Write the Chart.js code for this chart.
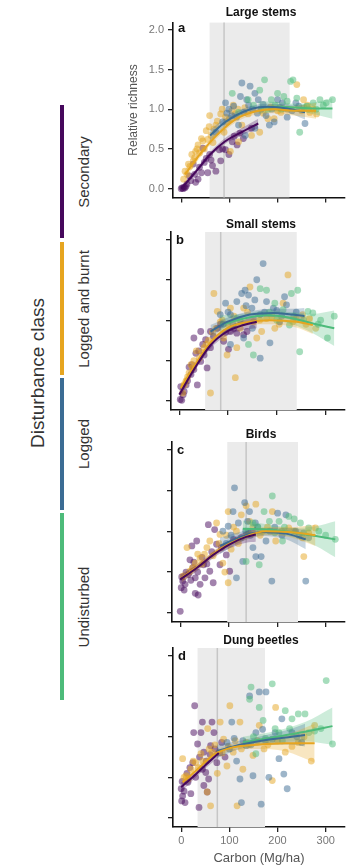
<!DOCTYPE html>
<html>
<head>
<meta charset="utf-8">
<script src="https://cdn.jsdelivr.net/npm/chart.js@4.4.1/dist/chart.umd.min.js"></script>
<style>
  body { margin: 0; width: 349px; height: 866px; background: #fff; position: relative; overflow: hidden;
         font-family: "Liberation Sans", Arial, sans-serif; }
  canvas { position: absolute; }
  .ptitle { position: absolute; font-weight: bold; font-size: 12px; color: #111; white-space: nowrap;
            transform: translate(-50%, -50%); }
  .letter { position: absolute; font-weight: bold; font-size: 13px; color: #111; transform: translateY(-50%); }
  .seg { position: absolute; left: 60px; width: 4px; }
  .lab { position: absolute; white-space: nowrap; color: #333; font-size: 15px;
         transform: translate(-50%, -50%) rotate(-90deg); }
  .legtitle { font-size: 19px; }
</style>
</head>
<body>
<script>
const classes = ['Secondary', 'Logged and burnt', 'Logged', 'Undisturbed'];
const panelTitles = ['Large stems', 'Small stems', 'Birds', 'Dung beetles'];
const panelLetters = ['a', 'b', 'c', 'd'];
const yTicks = [0, 0.5, 1, 1.5, 2];
const xTicks = [0, 100, 200, 300];
const bandFrom = [59, 53, 97, 34];
const bandTo = [225, 241, 243, 174];
const thresholdLine = [89, 85, 136, 75];

// points [carbon, relative richness]
const aSecondary = [[0,0],[2,0.01],[4,0],[6,0.02],[8,0.01],[10,0.03],[12,0.06],[17,0.16],[20,0.1],[25,0.31],[28,0.18],[30,0.08],[35,0.12],[38,0.27],[42,0.2],[45,0.51],[48,0.33],[52,0.38],[55,0.2],[59,0.43],[62,0.36],[65,0.29],[72,0.22],[79,0.49],[82,0.35],[86,0.5],[92,0.49],[99,0.43],[106,0.59],[110,0.66],[116,0.55],[122,0.7],[129,0.63],[146,0.76]];
const aBurnt = [[5,0.12],[8,0.22],[12,0.18],[15,0.31],[18,0.28],[22,0.43],[25,0.35],[28,0.39],[30,0.47],[33,0.5],[35,0.55],[38,0.45],[42,0.63],[45,0.6],[48,0.5],[52,0.73],[55,0.62],[58,0.78],[59,0.92],[62,0.67],[66,0.58],[68,0.75],[72,0.8],[75,0.85],[82,0.94],[85,1.0],[89,0.71],[92,0.9],[96,0.84],[100,0.88],[102,0.47],[105,0.98],[108,1.05],[112,0.94],[118,1.0],[119,0.59],[126,0.8],[132,1.02],[139,0.94],[146,0.67],[163,0.71],[170,0.95],[180,0.88],[186,1.03],[193,0.88],[200,0.98],[207,0.96],[220,1.0],[240,1.31],[250,0.98],[254,1.12],[262,1.05],[267,0.96],[274,1.0],[281,0.94]];
const aLogged = [[72,0.71],[86,0.84],[92,1.08],[95,0.95],[99,1.0],[105,0.92],[109,1.04],[115,0.9],[119,0.8],[123,1.16],[126,1.33],[130,0.96],[133,0.67],[136,1.12],[140,1.05],[143,1.29],[148,1.0],[153,1.2],[153,0.76],[158,0.95],[160,1.12],[166,1.0],[170,1.06],[176,0.92],[183,0.8],[188,1.0],[193,0.84],[200,1.12],[205,1.02],[210,1.08],[220,0.9],[230,0.98],[238,1.08],[244,1.04],[257,0.82]];
const aUndisturbed = [[106,1.2],[119,0.96],[139,1.12],[150,1.05],[163,1.24],[173,1.37],[180,1.0],[187,1.12],[195,1.05],[200,1.2],[208,1.0],[213,1.16],[220,1.1],[227,1.35],[232,1.37],[240,1.14],[246,0.71],[255,1.02],[261,1.04],[264,1.0],[274,1.08],[280,1.0],[288,1.12],[295,1.05],[301,1.08],[314,1.12]];

const bSecondary = [[2,0.02],[5,0.01],[3,0.18],[8,0.08],[10,0.12],[14,0.2],[17,0.25],[20,0.42],[24,0.33],[26,0.45],[30,0.39],[30,0.78],[34,0.59],[37,0.2],[40,0.62],[44,0.49],[44,0.86],[48,0.7],[51,0.57],[54,0.76],[57,0.41],[64,0.86],[64,0.66],[70,0.8],[78,0.9],[85,0.95],[91,0.74],[95,0.85],[101,0.64],[105,0.86],[112,0.9],[118,0.84],[132,0.82],[139,0.86]];
const bBurnt = [[7,0.1],[10,0.2],[14,0.25],[17,0.3],[20,0.35],[24,0.45],[27,0.41],[30,0.5],[35,0.62],[41,0.53],[46,0.6],[51,0.66],[55,0.7],[60,0.75],[64,0.1],[68,0.85],[71,1.33],[75,0.9],[78,1.11],[84,0.98],[88,1.0],[91,0.78],[98,0.57],[100,0.95],[105,1.15],[112,1.05],[115,0.29],[118,0.66],[125,0.9],[132,1.15],[140,1.1],[145,1.41],[152,0.98],[159,0.78],[165,1.0],[169,0.86],[179,1.02],[190,1.05],[196,0.9],[205,0.95],[213,1.21],[223,1.56],[233,0.98],[240,1.02],[253,1.07],[260,0.95],[267,1.02],[280,0.9]];
const bLogged = [[84,1.07],[90,0.95],[95,1.21],[100,1.1],[105,1.07],[105,0.7],[110,0.95],[118,1.23],[125,1.0],[128,1.33],[132,0.78],[135,1.37],[137,1.18],[142,1.31],[149,1.15],[150,0.9],[155,1.25],[159,1.5],[166,1.07],[166,0.53],[172,1.7],[175,1.1],[179,1.23],[186,0.72],[193,1.15],[200,1.12],[206,0.98],[210,1.05],[216,1.29],[220,1.19],[240,1.1]];
const bUndisturbed = [[118,1.02],[142,0.7],[152,0.57],[166,1.39],[179,1.37],[185,1.1],[196,1.21],[200,1.0],[213,1.13],[226,0.94],[230,1.33],[235,1.05],[243,1.37],[247,0.61],[255,1.0],[264,1.11],[274,1.09],[285,0.95],[290,1.0],[304,0.78],[318,1.05]];

const cSecondary = [[0,0.02],[2,0.31],[3,0.44],[5,0.39],[8,0.28],[10,0.35],[12,0.5],[17,0.47],[20,0.65],[22,0.4],[24,0.82],[26,0.55],[28,0.62],[31,0.43],[31,0.24],[34,0.88],[36,0.5],[37,0.22],[41,0.35],[45,0.68],[48,0.59],[51,0.43],[55,0.6],[58,1.08],[61,0.51],[65,0.75],[68,0.37],[71,1.02],[75,0.84],[82,0.59],[85,0.8],[95,0.71],[102,0.51],[110,0.9]];
const cBurnt = [[6,0.45],[14,0.8],[20,0.51],[25,0.55],[31,0.61],[36,0.72],[41,0.67],[45,0.6],[50,0.72],[55,0.8],[61,0.88],[68,0.7],[75,1.1],[80,0.85],[82,0.96],[88,0.61],[92,0.5],[95,0.95],[99,0.37],[99,1.24],[105,0.78],[110,1.05],[116,1.0],[120,0.85],[126,1.2],[136,1.31],[143,1.12],[150,1.05],[156,1.33],[165,0.95],[170,1.0],[180,1.05],[190,1.24],[197,0.88],[210,1.0],[224,1.04],[235,1.0],[252,0.92],[255,0.69],[265,0.98],[279,1.04]];
const cLogged = [[88,1.0],[95,0.85],[99,1.06],[105,0.95],[109,1.24],[112,1.53],[116,0.43],[120,1.1],[126,0.92],[129,0.63],[133,1.35],[135,1.0],[139,1.12],[143,1.24],[145,0.95],[150,0.8],[155,1.1],[156,0.69],[160,1.05],[167,0.69],[177,0.88],[185,1.0],[189,0.39],[195,1.05],[201,1.22],[210,0.95],[218,1.2],[238,1.0],[245,0.95],[259,0.39],[265,0.92]];
const cUndisturbed = [[136,0.63],[140,1.0],[150,1.1],[160,1.05],[163,0.59],[173,1.24],[184,1.12],[190,1.43],[195,0.98],[204,1.12],[211,0.88],[215,1.05],[224,1.18],[235,1.15],[248,1.1],[255,0.98],[265,1.04],[286,1.0],[300,0.95],[320,0.9]];

const dSecondary = [[0,0.36],[1,0.21],[2,0.45],[3,0.27],[6,0.33],[8,0.19],[12,0.55],[14,0.44],[18,0.62],[20,0.3],[24,0.68],[26,1.05],[28,1.38],[30,0.5],[34,0.91],[37,0.13],[38,0.75],[41,1.05],[44,1.18],[44,0.6],[47,0.81],[47,0.4],[51,0.56],[52,0.7],[54,0.32],[57,0.48],[60,0.78],[61,0.89],[64,1.18],[68,1.05],[70,0.85],[74,0.68],[80,0.8],[84,0.93],[91,0.75]];
const dBurnt = [[3,0.73],[6,0.5],[10,0.52],[15,0.48],[20,0.6],[25,0.7],[30,0.68],[35,0.62],[41,0.79],[45,0.7],[54,0.32],[55,1.1],[58,0.85],[61,0.15],[64,0.81],[70,0.9],[75,0.55],[81,1.18],[85,0.8],[88,0.97],[95,0.64],[98,0.88],[101,1.38],[108,0.81],[112,0.95],[116,0.15],[122,1.18],[125,0.85],[128,0.6],[135,0.93],[140,0.9],[149,0.77],[158,0.95],[162,1.14],[172,0.85],[180,0.9],[189,0.46],[196,1.36],[200,0.95],[216,0.81],[230,0.88],[243,0.93],[255,1.0],[270,0.7],[277,1.14]];
const dLogged = [[95,0.93],[100,0.85],[105,1.18],[110,0.98],[115,0.7],[122,0.48],[125,0.19],[128,0.95],[135,0.89],[142,1.5],[145,0.9],[149,0.52],[155,1.05],[162,1.55],[166,0.17],[169,1.09],[175,0.95],[176,1.55],[182,0.5],[189,0.97],[195,1.05],[203,0.73],[209,1.22],[213,0.54],[220,0.36],[230,1.05],[240,1.0],[250,0.93]];
const dUndisturbed = [[142,1.46],[145,1.61],[150,1.0],[155,0.79],[162,1.36],[170,1.2],[175,0.98],[189,1.65],[195,1.1],[203,1.05],[210,0.95],[216,1.32],[225,1.1],[230,1.22],[243,1.28],[257,1.28],[265,1.05],[277,1.07],[290,1.1],[301,1.69],[314,0.91]];

// fitted curves [carbon, fit, lower, upper]
const aSecondaryFit = [[0,0.0,-0.02,0.03],[30,0.21,0.18,0.24],[60,0.43,0.40,0.46],[90,0.59,0.56,0.63],[125,0.71,0.67,0.76],[160,0.82,0.76,0.88]];
const aBurntFit = [[8,0.18,0.12,0.24],[40,0.44,0.40,0.48],[75,0.68,0.64,0.72],[112,0.87,0.83,0.91],[153,0.97,0.93,1.01],[193,1.0,0.95,1.05],[234,0.98,0.92,1.04],[280,0.98,0.88,1.08]];
const aLoggedFit = [[60,0.67,0.6,0.74],[92,0.84,0.79,0.89],[139,0.99,0.95,1.03],[180,1.03,0.99,1.07],[220,1.01,0.96,1.06],[257,0.96,0.87,1.05]];
const aUndisturbedFit = [[160,1.02,0.94,1.1],[200,1.03,0.97,1.09],[240,1.02,0.97,1.07],[280,1.01,0.93,1.09],[314,1.01,0.88,1.14]];

const bSecondaryFit = [[0,0.08,0.02,0.14],[30,0.39,0.35,0.43],[64,0.69,0.65,0.73],[98,0.86,0.81,0.91],[132,0.94,0.88,1.0],[159,0.98,0.9,1.06]];
const bBurntFit = [[3,0.16,0.1,0.22],[37,0.49,0.45,0.53],[71,0.77,0.73,0.81],[105,0.92,0.88,0.96],[145,0.98,0.94,1.02],[186,1.0,0.95,1.05],[240,0.98,0.91,1.05],[274,0.94,0.83,1.05]];
const bLoggedFit = [[64,0.86,0.78,0.94],[98,0.98,0.93,1.03],[145,1.07,1.03,1.11],[193,1.09,1.04,1.14],[233,1.07,1.0,1.14],[257,1.05,0.95,1.15]];
const bUndisturbedFit = [[84,0.94,0.82,1.06],[132,1.02,0.96,1.08],[179,1.06,1.0,1.12],[226,1.03,0.96,1.1],[274,0.96,0.84,1.08],[318,0.9,0.68,1.12]];

const cSecondaryFit = [[0,0.41,0.35,0.47],[34,0.55,0.51,0.59],[68,0.71,0.67,0.75],[102,0.84,0.79,0.89],[136,0.93,0.86,1.0],[156,0.96,0.87,1.05]];
const cBurntFit = [[3,0.43,0.37,0.49],[41,0.59,0.55,0.63],[82,0.78,0.74,0.82],[129,0.92,0.88,0.96],[177,1.0,0.95,1.05],[224,0.99,0.93,1.05],[279,0.95,0.82,1.08]];
const cLoggedFit = [[82,0.82,0.72,0.92],[129,0.94,0.88,1.0],[170,0.99,0.94,1.04],[218,0.97,0.9,1.04],[259,0.9,0.78,1.02]];
const cUndisturbedFit = [[129,1.03,0.93,1.13],[184,1.02,0.96,1.08],[238,0.98,0.92,1.04],[280,0.94,0.82,1.06],[320,0.9,0.68,1.12]];

const dSecondaryFit = [[0,0.38,0.32,0.44],[27,0.52,0.48,0.56],[54,0.67,0.63,0.71],[78,0.8,0.74,0.86]];
const dBurntFit = [[3,0.44,0.38,0.5],[34,0.6,0.56,0.64],[68,0.78,0.74,0.82],[108,0.87,0.83,0.91],[155,0.9,0.85,0.95],[216,0.92,0.82,1.02],[277,0.92,0.68,1.16]];
const dLoggedFit = [[74,0.82,0.74,0.9],[122,0.9,0.85,0.95],[176,0.96,0.9,1.02],[230,1.0,0.9,1.1],[257,1.02,0.88,1.16]];
const dUndisturbedFit = [[128,0.93,0.86,1.0],[189,0.99,0.92,1.06],[257,1.06,0.94,1.18],[314,1.13,0.9,1.36]];

const panelPoints = [
  [aSecondary, aBurnt, aLogged, aUndisturbed],
  [bSecondary, bBurnt, bLogged, bUndisturbed],
  [cSecondary, cBurnt, cLogged, cUndisturbed],
  [dSecondary, dBurnt, dLogged, dUndisturbed]
];
const panelFits = [
  [aSecondaryFit, aBurntFit, aLoggedFit, aUndisturbedFit],
  [bSecondaryFit, bBurntFit, bLoggedFit, bUndisturbedFit],
  [cSecondaryFit, cBurntFit, cLoggedFit, cUndisturbedFit],
  [dSecondaryFit, dBurntFit, dLoggedFit, dUndisturbedFit]
];

// styling / layout
const classColors = ['#46085c', '#e6a520', '#3b6c94', '#4dbb7a'];
const boxes = [
  { axisX: 173, top: 20, bottom: 200 },
  { axisX: 171, top: 232, bottom: 410 },
  { axisX: 172, top: 442, bottom: 622 },
  { axisX: 173, top: 648, bottom: 827 }
];
const segTop = [105, 242, 378, 513];
const segBottom = [238, 375, 510, 700];

const rgba = (hex, a) => {
  const n = parseInt(hex.slice(1), 16);
  return `rgba(${n >> 16},${(n >> 8) & 255},${n & 255},${a})`;
};

const bandPlugin = {
  id: 'carbonBand',
  beforeDatasetsDraw(chart, args, opts) {
    const { ctx, chartArea, scales: { x } } = chart;
    const x0 = x.getPixelForValue(opts.from);
    const x1 = x.getPixelForValue(opts.to);
    const xl = x.getPixelForValue(opts.line);
    ctx.save();
    ctx.fillStyle = '#ebebeb';
    ctx.fillRect(x0, chartArea.top, x1 - x0, chartArea.bottom - chartArea.top);
    ctx.strokeStyle = '#c6c6c6';
    ctx.lineWidth = 1.5;
    ctx.beginPath();
    ctx.moveTo(xl, chartArea.top);
    ctx.lineTo(xl, chartArea.bottom);
    ctx.stroke();
    ctx.restore();
  }
};

// legend on the left
const legTitle = document.createElement('div');
legTitle.className = 'lab legtitle';
legTitle.style.left = '38px';
legTitle.style.top = '373px';
legTitle.textContent = 'Disturbance class';
document.body.appendChild(legTitle);

classes.forEach((name, k) => {
  const seg = document.createElement('div');
  seg.className = 'seg';
  seg.style.top = segTop[k] + 'px';
  seg.style.height = (segBottom[k] - segTop[k]) + 'px';
  seg.style.background = classColors[k];
  document.body.appendChild(seg);

  const lab = document.createElement('div');
  lab.className = 'lab';
  lab.style.left = '83px';
  lab.style.top = ((segTop[k] + segBottom[k]) / 2) + 'px';
  lab.textContent = name;
  document.body.appendChild(lab);
});

panelTitles.forEach((title, i) => {
  const b = boxes[i];
  const last = i === panelTitles.length - 1;
  const xH = last ? 39 : 8;
  const left = b.axisX - 63;

  const canvas = document.createElement('canvas');
  canvas.width = 349 - left;
  canvas.height = 8 + (b.bottom - b.top) + xH;
  canvas.style.left = left + 'px';
  canvas.style.top = (b.top - 8) + 'px';
  document.body.appendChild(canvas);

  const t = document.createElement('div');
  t.className = 'ptitle';
  t.style.left = '261px';
  t.style.top = (b.top - 8) + 'px';
  t.textContent = title;
  document.body.appendChild(t);

  const l = document.createElement('div');
  l.className = 'letter';
  l.style.left = (b.axisX + 5) + 'px';
  l.style.top = (b.top + 7) + 'px';
  l.textContent = panelLetters[i];
  document.body.appendChild(l);

  const fitLines = [], bands = [], dots = [];
  classes.forEach((name, k) => {
    const col = classColors[k];
    const fit = panelFits[i][k];
    fitLines.push({
      type: 'line', label: name,
      data: fit.map(r => ({ x: r[0], y: r[1] })),
      borderColor: col, borderWidth: 2, pointRadius: 0,
      cubicInterpolationMode: 'monotone', fill: false
    });
    bands.push({
      type: 'line', label: name + ' upper',
      data: fit.map(r => ({ x: r[0], y: r[3] })),
      borderWidth: 0, pointRadius: 0, borderColor: 'transparent',
      backgroundColor: rgba(col, 0.28), cubicInterpolationMode: 'monotone',
      fill: '+1'
    }, {
      type: 'line', label: name + ' lower',
      data: fit.map(r => ({ x: r[0], y: r[2] })),
      borderWidth: 0, pointRadius: 0, borderColor: 'transparent',
      cubicInterpolationMode: 'monotone', fill: false
    });
    dots.push({
      type: 'scatter', label: name + ' sites',
      data: panelPoints[i][k].map(p => ({ x: p[0], y: p[1] })),
      backgroundColor: rgba(col, 0.5), borderWidth: 0, pointRadius: 3.4
    });
  });

  new Chart(canvas.getContext('2d'), {
    type: 'scatter',
    data: { datasets: [...fitLines, ...bands, ...dots.reverse()] },
    plugins: [bandPlugin],
    options: {
      responsive: false,
      animation: false,
      events: [],
      layout: { padding: { top: 8, left: 0, right: 0, bottom: 0 } },
      plugins: {
        legend: { display: false },
        tooltip: { enabled: false },
        carbonBand: { from: bandFrom[i], to: bandTo[i], line: thresholdLine[i] }
      },
      scales: {
        x: {
          type: 'linear', min: -17, max: 340,
          afterBuildTicks: s => { s.ticks = xTicks.map(v => ({ value: v })); },
          afterFit: s => { s.height = xH; },
          grid: { display: true, drawOnChartArea: false, drawTicks: true, tickLength: 5, color: '#222', lineWidth: 1.3 },
          border: { display: true, color: '#111', width: 1.6 },
          ticks: {
            display: last, color: '#777', padding: 2,
            font: { family: 'Liberation Sans', size: 11 },
            callback: v => String(v)
          },
          title: {
            display: last, text: 'Carbon (Mg/ha)', color: '#555',
            font: { family: 'Liberation Sans', size: 13 }, padding: { top: 0, bottom: 0 }
          }
        },
        y: {
          type: 'linear', min: -0.11, max: 2.09,
          afterBuildTicks: s => { s.ticks = yTicks.map(v => ({ value: v })); },
          afterFit: s => { s.width = 63; },
          grid: { display: true, drawOnChartArea: false, drawTicks: true, tickLength: 5, color: '#222', lineWidth: 1.3 },
          border: { display: true, color: '#111', width: 1.6 },
          ticks: {
            display: i === 0, color: '#777', padding: 4,
            font: { family: 'Liberation Sans', size: 11 },
            callback: v => v.toFixed(1)
          },
          title: {
            display: i === 0, text: 'Relative richness', color: '#555',
            font: { family: 'Liberation Sans', size: 12 }, padding: { top: 16, bottom: 0 }
          }
        }
      }
    }
  });
});
</script>
</body>
</html>
